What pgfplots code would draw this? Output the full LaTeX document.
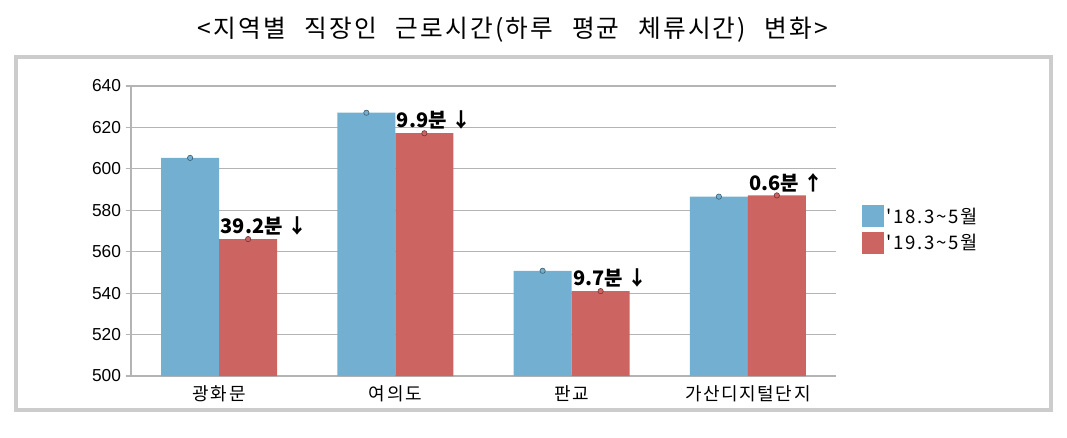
\documentclass[border=0pt]{standalone}
\usepackage{fontspec}
\setmainfont{Noto Sans CJK KR}
\newfontfamily\numfont{Liberation Sans}
\newfontfamily\widefont[LetterSpace=9]{Noto Sans CJK KR}
\usepackage{pgfplots}
\pgfplotsset{compat=1.18}

\definecolor{barblue}{HTML}{72AFD0}
\definecolor{barred}{HTML}{CC6462}
\definecolor{gridgray}{HTML}{B4B4B4}
\definecolor{framegray}{HTML}{CCCCCC}

\begin{document}
\begin{tikzpicture}
  % px -> pt : 0.75
  \useasboundingbox (-98.25pt,-45.75pt) rectangle (702pt,282pt);
  \begin{axis}[
      scale only axis,
      width=528.75pt, height=217.5pt,
      ybar=0pt, bar width=43.5pt,
      xmin=-0.5, xmax=3.5,
      ymin=500, ymax=640,
      xtick={0,1,2,3},
      xticklabels={광화문, 여의도, 판교, 가산디지털단지},
      x tick label style={font=\widefont\fontsize{13.5}{15}\selectfont, yshift=0pt},
      ytick={500,520,...,640},
      y tick label style={font=\numfont\fontsize{13}{15}\selectfont},
      /pgf/number format/assume math mode=true,
      axis lines=left,
      axis line style={-, gridgray, line width=0.8pt},
      ymajorgrids, major grid style={gridgray, line width=0.8pt},
      major x tick style={draw=none},
      major y tick style={gridgray, line width=0.8pt},
      tick align=outside, major tick length=4pt,
      legend style={at={(1.031,0.60)}, anchor=north west, draw=none, fill=none,
        font=\widefont\fontsize{14}{16}\selectfont, row sep=3pt,
        /tikz/every even column/.append style={column sep=5pt}},
      legend cell align=left,
      legend image code/.code={\fill[#1, draw=none] (0pt,-8.25pt) rectangle (16.5pt,8.25pt);},
    ]
    \addplot[fill=barblue, draw=none,
      mark=*, mark size=2pt,
      mark options={xshift=-21.75pt, fill=barblue, draw=barblue!50!black, line width=0.4pt}]
      coordinates {(0,605.3) (1,627.1) (2,550.8) (3,586.6)};
    \addlegendentry{'18.3\textasciitilde 5월}
    \addplot[fill=barred, draw=none,
      mark=*, mark size=2pt,
      mark options={xshift=21.75pt, fill=barred, draw=barred!50!black, line width=0.4pt},
      point meta=explicit symbolic,
      nodes near coords,
      nodes near coords style={anchor=south west, xshift=-43.5pt, yshift=1.5pt,
        inner sep=1pt, font=\bfseries\fontsize{15}{17}\selectfont, black}]
      coordinates {(0,566.1) [39.2분 ↓] (1,617.2) [9.9분 ↓] (2,541.0) [9.7분 ↓] (3,587.2) [0.6분 ↑]};
    \addlegendentry{'19.3\textasciitilde 5월}
  \end{axis}
  % outer frame
  \draw[framegray, line width=2.3pt] (-86.25pt,-25.5pt) rectangle (690pt,239.25pt);
  % title
  \node[font=\widefont\fontsize{18.5}{20}\selectfont] at (286.5pt,259.5pt)
    {<지역별\hspace{0.75em}직장인\hspace{0.75em}근로시간(하루\hspace{0.75em}평균\hspace{0.75em}체류시간)\hspace{0.75em}변화>};
\end{tikzpicture}
\end{document}
